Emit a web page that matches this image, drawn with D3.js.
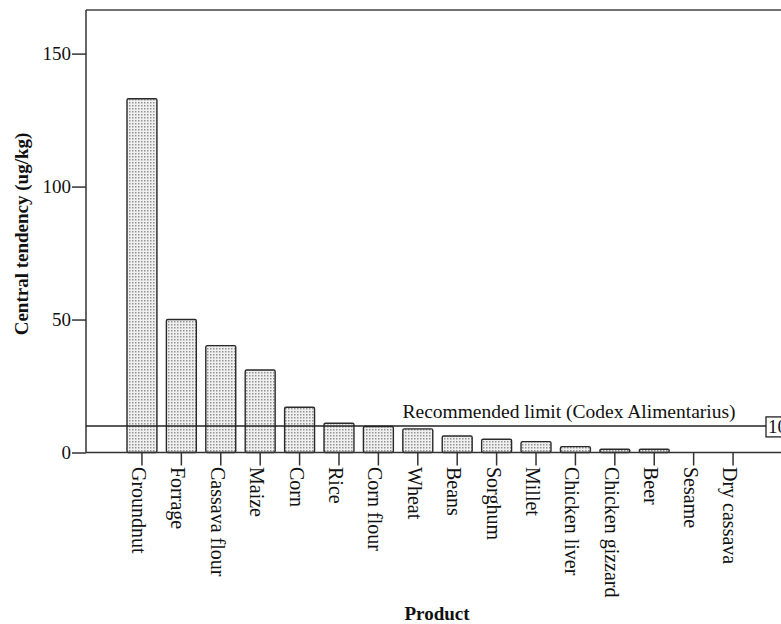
<!DOCTYPE html>
<html>
<head>
<meta charset="utf-8">
<script src="https://cdn.jsdelivr.net/npm/d3@7"></script>
<style>
  html, body { margin: 0; padding: 0; background: #fff; }
  svg { display: block; }
  text { font-family: "Liberation Serif", "Times New Roman", serif; fill: #111; }
</style>
</head>
<body>
<svg id="chart" width="781" height="624"></svg>
<script>
const categories = ["Groundnut","Forrage","Cassava flour","Maize","Corn","Rice","Corn flour","Wheat","Beans","Sorghum","Millet","Chicken liver","Chicken gizzard","Beer","Sesame","Dry cassava"];
const values = [133, 50, 40.2, 31, 17, 11, 9.8, 8.9, 6.2, 5, 4.1, 2.2, 1.2, 1.2, 0, 0];
const yTicks = [0, 50, 100, 150];
const limitValue = 10;
const limitLabel = "Recommended limit (Codex Alimentarius)";
const yTitle = "Central tendency (ug/kg)";
const xTitle = "Product";

const svg = d3.select("#chart");
const mLeft = 86, mRight = 789, mTop = 10, mBottom = 452.5;

const defs = svg.append("defs");
const pat = defs.append("pattern").attr("id", "dots")
  .attr("patternUnits", "userSpaceOnUse").attr("width", 3).attr("height", 3);
pat.append("rect").attr("width", 3).attr("height", 3).attr("fill", "#f0f0f0");
pat.append("rect").attr("x", 0).attr("y", 0).attr("width", 1.5).attr("height", 1.5).attr("fill", "#949494");

const x = d3.scaleBand().domain(categories).range([mLeft, mRight])
  .paddingInner(0.24).paddingOuter(1.04);
const y = d3.scaleLinear().domain([0, 166.4]).range([mBottom, mTop]);

// frame
svg.append("line").attr("x1", mLeft).attr("x2", 781).attr("y1", mTop).attr("y2", mTop)
  .attr("stroke", "#444").attr("stroke-width", 1.5);

// bars
svg.append("g").selectAll("rect").data(categories.map((c, i) => ({c, v: values[i]})))
  .join("rect")
  .attr("x", d => x(d.c))
  .attr("y", d => y(d.v))
  .attr("width", x.bandwidth())
  .attr("height", d => mBottom - y(d.v))
  .attr("rx", 1.5)
  .attr("fill", "url(#dots)")
  .attr("stroke", d => d.v > 0 ? "#2a2a2a" : "none")
  .attr("stroke-width", 1.4);

// y axis
const yAxis = svg.append("g").attr("transform", `translate(${mLeft},0)`)
  .call(d3.axisLeft(y).tickValues(yTicks).tickSize(14).tickPadding(1).tickFormat(d3.format("d")));
yAxis.select(".domain").remove();
yAxis.selectAll(".tick line").attr("stroke", "#333").attr("stroke-width", 1.5);
yAxis.selectAll(".tick text").style("font-family", "Liberation Serif").style("font-size", "19px").attr("fill", "#111");
svg.append("line").attr("x1", mLeft).attr("x2", mLeft).attr("y1", mTop).attr("y2", mBottom)
  .attr("stroke", "#333").attr("stroke-width", 1.5);

// x axis
const xAxis = svg.append("g").attr("transform", `translate(0,${mBottom})`)
  .call(d3.axisBottom(x).tickSize(13).tickFormat(""));
xAxis.select(".domain").remove();
xAxis.selectAll(".tick line").attr("stroke", "#333").attr("stroke-width", 1.5);
svg.append("line").attr("x1", mLeft).attr("x2", 781).attr("y1", mBottom).attr("y2", mBottom)
  .attr("stroke", "#333").attr("stroke-width", 1.5);

svg.append("g").selectAll("text").data(categories).join("text")
  .attr("transform", d => `translate(${x(d) + x.bandwidth() / 2 - 10},467) rotate(90)`)
  .attr("text-anchor", "start")
  .attr("x", 0)
  .style("font-size", "20px")
  .text(d => d);

// reference line
const ly = y(limitValue);
svg.append("line").attr("x1", mLeft).attr("x2", 766).attr("y1", ly).attr("y2", ly)
  .attr("stroke", "#222").attr("stroke-width", 1.5);
svg.append("text").attr("x", 569).attr("y", 418).attr("text-anchor", "middle")
  .style("font-size", "19.5px").text(limitLabel);
svg.append("rect").attr("x", 766).attr("y", ly - 9).attr("width", 40).attr("height", 20)
  .attr("fill", "#fff").attr("stroke", "#222").attr("stroke-width", 1.3);
svg.append("text").attr("x", 768).attr("y", ly + 7.5).style("font-size", "19px").text(String(limitValue));

// titles
svg.append("text").attr("transform", "translate(28,234) rotate(-90)")
  .attr("text-anchor", "middle").style("font-size", "19px").style("font-weight", "bold").text(yTitle);
svg.append("text").attr("x", 437).attr("y", 620).attr("text-anchor", "middle")
  .style("font-size", "19px").style("font-weight", "bold").text(xTitle);
</script>
</body>
</html>
